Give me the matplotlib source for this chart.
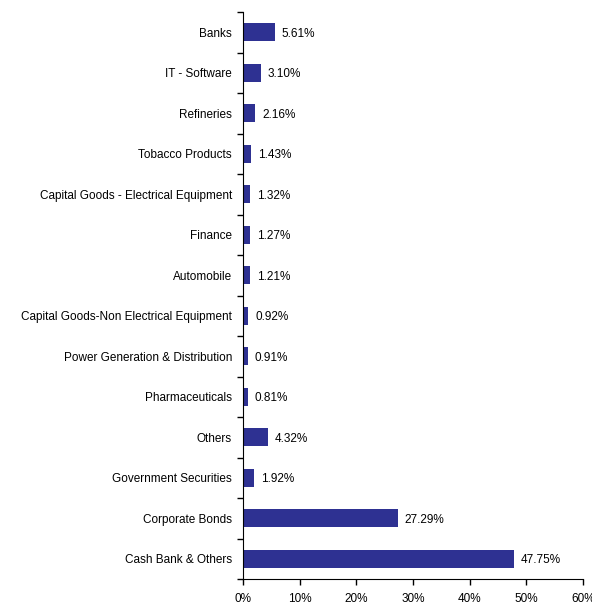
import matplotlib.pyplot as plt
import numpy as np

plt.rcParams["font.family"] = ["Liberation Sans", "DejaVu Sans"]

# ==================================
# DATA
# ==================================

sectors = [
    "Banks",
    "IT - Software",
    "Refineries",
    "Tobacco Products",
    "Capital Goods - Electrical Equipment",
    "Finance",
    "Automobile",
    "Capital Goods-Non Electrical Equipment",
    "Power Generation & Distribution",
    "Pharmaceuticals",
    "Others",
    "Government Securities",
    "Corporate Bonds",
    "Cash Bank & Others",
]

weights = [5.61, 3.10, 2.16, 1.43, 1.32, 1.27, 1.21, 0.92, 0.91, 0.81, 4.32, 1.92, 27.29, 47.75]

x_ticks = [0, 10, 20, 30, 40, 50, 60]

# ==================================
# CHART
# ==================================

fig = plt.figure(figsize=(5.92, 6.07), dpi=100)
ax = fig.add_axes([0.4105, 0.0461, 0.5745, 0.934])

y = np.arange(len(sectors))

ax.barh(y, weights, height=0.45, color="#2E3192")

for yi, w in zip(y, weights):
    ax.text(w + 1.2, yi + 0.04, f"{w:.2f}%", va="center", ha="left", fontsize=8.5)

ax.set_ylim(len(sectors) - 0.5, -0.5)
ax.set_xlim(0, 60)

ax.set_yticks(y)
ax.set_yticklabels(sectors, fontsize=8.5)
ax.set_yticks(np.arange(len(sectors) + 1) - 0.5, minor=True)
ax.tick_params(axis="y", which="major", length=0, pad=8)
ax.tick_params(axis="y", which="minor", length=4, width=1)

ax.set_xticks(x_ticks)
ax.set_xticklabels([f"{t}%" for t in x_ticks], fontsize=8.5)
ax.tick_params(axis="x", length=4, width=1, pad=6)

for side in ["top", "right"]:
    ax.spines[side].set_visible(False)

fig.savefig("out.png", dpi=100)
